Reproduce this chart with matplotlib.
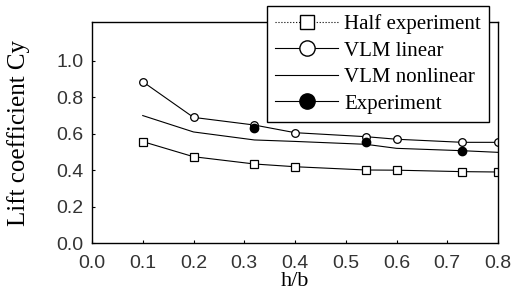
import matplotlib
matplotlib.use("Agg")
import matplotlib.pyplot as plt
from matplotlib.lines import Line2D

# data
h_b = [0.1, 0.2, 0.32, 0.4, 0.54, 0.6, 0.73, 0.8]
half_exp = [0.557, 0.474, 0.434, 0.419, 0.401, 0.400, 0.392, 0.390]
vlm_linear = [0.886, 0.690, 0.648, 0.606, 0.584, 0.570, 0.553, 0.553]
vlm_nonlinear = [0.700, 0.610, 0.566, 0.558, 0.542, 0.520, 0.507, 0.498]
exp_x = [0.32, 0.54, 0.73]
exp_y = [0.632, 0.557, 0.507]

xticks = [0.0, 0.1, 0.2, 0.3, 0.4, 0.5, 0.6, 0.7, 0.8]
yticks = [0.0, 0.2, 0.4, 0.6, 0.8, 1.0]

serif = ['Liberation Serif', 'DejaVu Serif']
sans = ['Liberation Sans Narrow', 'Liberation Sans', 'DejaVu Sans']

fig = plt.figure(figsize=(5.15, 2.96), dpi=100)
ax = fig.add_axes([92 / 515, 1 - 243 / 296, (498 - 92) / 515, (243 - 22) / 296])

lw = 0.8
ax.plot(h_b, half_exp, color='black', lw=lw, marker='s', ms=5.5,
        mfc='white', mec='black', mew=0.9)
ax.plot(h_b, vlm_linear, color='black', lw=lw, marker='o', ms=5.5,
        mfc='white', mec='black', mew=0.9)
ax.plot(h_b, vlm_nonlinear, color='black', lw=lw)
ax.plot(exp_x, exp_y, linestyle='none', marker='o', ms=6,
        mfc='black', mec='black')

ax.set_xlim(0, 0.8)
ax.set_ylim(0, 1.214)
ax.set_xticks(xticks)
ax.set_yticks(yticks)
ax.set_xticklabels([f"{v:.1f}" for v in xticks])
ax.set_yticklabels([f"{v:.1f}" for v in yticks])
ax.tick_params(direction='in', length=2.5, width=0.8, labelsize=14)
ax.tick_params(axis='x', pad=9)
ax.tick_params(axis='y', pad=6)
for lab in ax.get_xticklabels() + ax.get_yticklabels():
    lab.set_family(sans)
    lab.set_color('#333333')
for sp in ax.spines.values():
    sp.set_linewidth(1.0)

ax.set_xlabel('h/b', family=serif, fontsize=16, labelpad=0)
ax.set_ylabel('Lift coefficient Cy', family=serif, fontsize=18, labelpad=19)

handles = [
    Line2D([], [], color='black', lw=0.8, ls=':', marker='s', ms=10,
           mfc='white', mec='black'),
    Line2D([], [], color='black', lw=0.8, marker='o', ms=11,
           mfc='white', mec='black'),
    Line2D([], [], color='black', lw=0.8),
    Line2D([], [], color='black', lw=0.8, marker='o', ms=11,
           mfc='black', mec='black'),
]
labels = ['Half experiment', 'VLM linear', 'VLM nonlinear', 'Experiment']
leg = fig.legend(handles, labels, loc='upper left',
                 bbox_to_anchor=(267 / 515, 1 - 6 / 296),
                 bbox_transform=fig.transFigure, borderaxespad=0,
                 prop={'family': serif, 'size': 15},
                 frameon=True, fancybox=False, framealpha=1,
                 edgecolor='black', handlelength=3.0, handletextpad=0.3,
                 labelspacing=0.33, borderpad=0.4)
leg.get_frame().set_linewidth(1.0)

fig.savefig('out.png', dpi=100, facecolor='white')
